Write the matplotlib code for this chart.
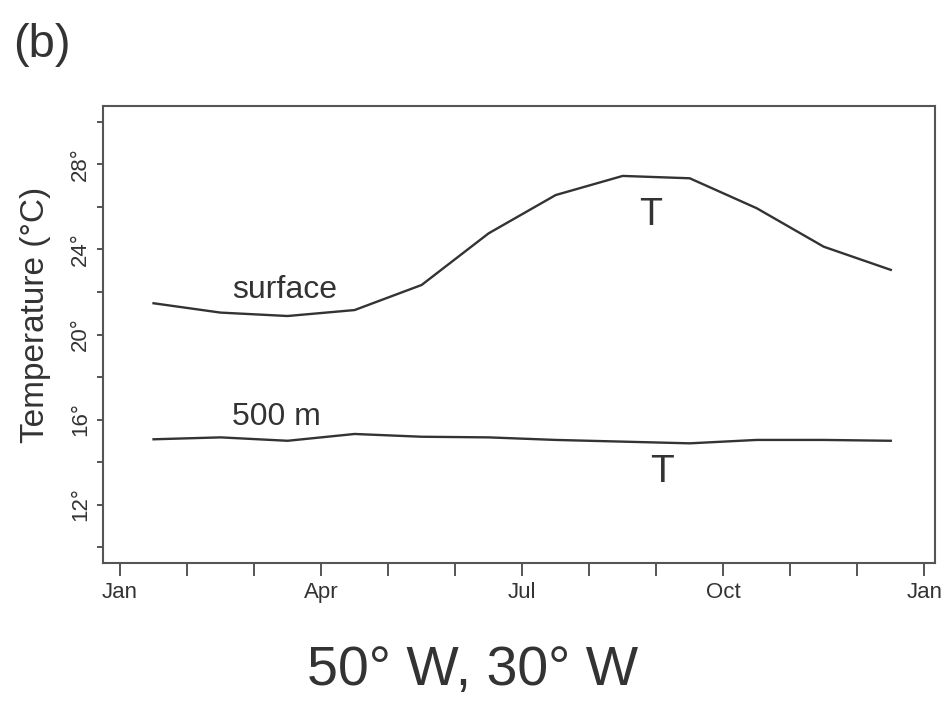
import matplotlib
matplotlib.use("Agg")
import matplotlib.pyplot as plt
from matplotlib.ticker import MultipleLocator, FixedLocator

plt.rcParams['font.family'] = ['Liberation Sans', 'DejaVu Sans']

# Monthly mean temperatures (mid-month), 50°W-30°W
months = [0.5, 1.5, 2.5, 3.5, 4.5, 5.5, 6.5, 7.5, 8.5, 9.5, 10.5, 11.5]
surface_T = [21.47, 21.03, 20.87, 21.15, 22.33, 24.76, 26.56, 27.46, 27.35, 25.94, 24.13, 23.04]
depth500_T = [15.07, 15.16, 15.00, 15.32, 15.19, 15.16, 15.04, 14.96, 14.88, 15.04, 15.04, 15.00]

month_tick_pos = [0, 3, 6, 9, 12]
month_tick_labels = ["Jan", "Apr", "Jul", "Oct", "Jan"]
y_major = [12, 16, 20, 24, 28]
y_major_labels = ["12°", "16°", "20°", "24°", "28°"]

ink = "#333333"
spine_c = "#555555"

fig = plt.figure(figsize=(9.51, 7.02), dpi=100)
ax = fig.add_axes([103/951, 139/702, (935-103)/951, (596-139)/702])

ax.plot(months, surface_T, color=ink, lw=1.7)
ax.plot(months, depth500_T, color=ink, lw=1.7)

ax.set_xlim(-0.254, 12.16)
ax.set_ylim(9.25, 30.75)

ax.xaxis.set_major_locator(FixedLocator(month_tick_pos))
ax.set_xticklabels(month_tick_labels)
ax.xaxis.set_minor_locator(MultipleLocator(1))
ax.tick_params(axis='x', which='both', direction='out', length=9, width=1.4,
               color=spine_c, labelsize=16, labelcolor=ink, pad=5)

ax.yaxis.set_major_locator(FixedLocator(y_major))
ax.set_yticklabels(y_major_labels, rotation=90, va='center')
ax.yaxis.set_minor_locator(MultipleLocator(2))
ax.tick_params(axis='y', which='both', direction='out', length=4.5, width=1.4,
               color=spine_c, labelsize=16, labelcolor=ink, pad=4)

for s in ax.spines.values():
    s.set_color(spine_c)
    s.set_linewidth(1.5)

ax.text(2.46, 21.72, "surface", fontsize=23, color=ink, ha='center', va='baseline')
ax.text(2.33, 15.74, "500 m", fontsize=23, color=ink, ha='center', va='baseline')
ax.text(7.91, 25.15, "T", fontsize=27, color=ink, ha='center', va='baseline')
ax.text(8.09, 13.06, "T", fontsize=28, color=ink, ha='center', va='baseline')

fig.text(36/951, 0.552, "Temperature (°C)", rotation=90, fontsize=24, color=ink,
         ha='center', va='center')
fig.text(0.497, 0.0242, "50° W, 30° W", fontsize=40, color=ink, ha='center', va='baseline')
fig.text(0.0137, 0.919, "(b)", fontsize=34, color=ink, ha='left', va='baseline')

fig.savefig("out.png", dpi=100)
